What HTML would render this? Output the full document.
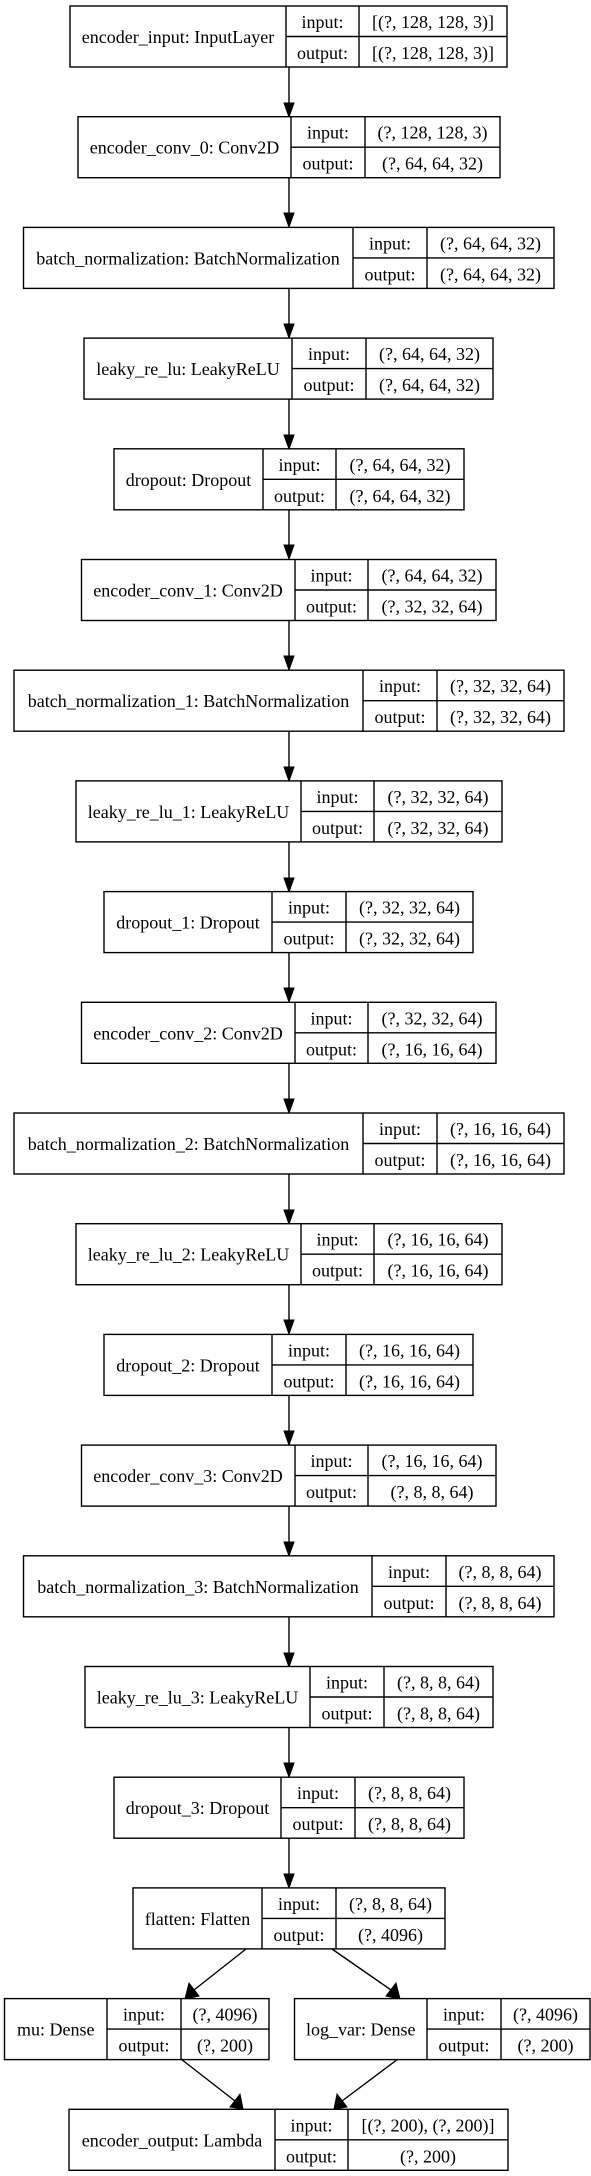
<!DOCTYPE html>
<html><head><meta charset="utf-8"><style>html,body{margin:0;padding:0;background:#fff}svg{display:block}</style></head>
<body>
<svg width="591" height="2176" viewBox="0 0 591 2176" xmlns="http://www.w3.org/2000/svg" font-family="'Liberation Serif', serif" font-size="18" text-anchor="middle" fill="#000">
<defs><style>rect,line.b{fill:#fff;stroke:#000;stroke-width:1.4}line.a{stroke:#000;stroke-width:1.4}polygon{fill:#000;stroke:#000;stroke-width:1}</style></defs>

<!-- vertical arrows -->
<g>
<line class="a" x1="289" y1="67" x2="289" y2="103"/><polygon points="284,103 294,103 289,117"/>
<line class="a" x1="289" y1="178" x2="289" y2="213"/><polygon points="284,213 294,213 289,227"/>
<line class="a" x1="289" y1="288" x2="289" y2="324"/><polygon points="284,324 294,324 289,338"/>
<line class="a" x1="289" y1="399" x2="289" y2="435"/><polygon points="284,435 294,435 289,449"/>
<line class="a" x1="289" y1="510" x2="289" y2="545"/><polygon points="284,545 294,545 289,559"/>
<line class="a" x1="289" y1="620" x2="289" y2="656"/><polygon points="284,656 294,656 289,670"/>
<line class="a" x1="289" y1="731" x2="289" y2="767"/><polygon points="284,767 294,767 289,781"/>
<line class="a" x1="289" y1="842" x2="289" y2="878"/><polygon points="284,878 294,878 289,892"/>
<line class="a" x1="289" y1="953" x2="289" y2="988"/><polygon points="284,988 294,988 289,1002"/>
<line class="a" x1="289" y1="1063" x2="289" y2="1099"/><polygon points="284,1099 294,1099 289,1113"/>
<line class="a" x1="289" y1="1174" x2="289" y2="1210"/><polygon points="284,1210 294,1210 289,1224"/>
<line class="a" x1="289" y1="1285" x2="289" y2="1320"/><polygon points="284,1320 294,1320 289,1334"/>
<line class="a" x1="289" y1="1395" x2="289" y2="1431"/><polygon points="284,1431 294,1431 289,1445"/>
<line class="a" x1="289" y1="1506" x2="289" y2="1542"/><polygon points="284,1542 294,1542 289,1556"/>
<line class="a" x1="289" y1="1617" x2="289" y2="1653"/><polygon points="284,1653 294,1653 289,1667"/>
<line class="a" x1="289" y1="1728" x2="289" y2="1763"/><polygon points="284,1763 294,1763 289,1777"/>
<line class="a" x1="289" y1="1838" x2="289" y2="1874"/><polygon points="284,1874 294,1874 289,1888"/>
</g>
<!-- diagonal arrows -->
<line class="a" x1="246" y1="1949" x2="194" y2="1990"/><polygon points="189,1983 199,1996 185,1999"/>
<line class="a" x1="332" y1="1949" x2="391" y2="1990"/><polygon points="386,1996 396,1983 400,1999"/>
<line class="a" x1="181" y1="2059" x2="235" y2="2101"/><polygon points="230,2107 240,2094 243,2109"/>
<line class="a" x1="398" y1="2059" x2="342" y2="2101"/><polygon points="337,2094 347,2107 334,2109"/>

<!-- nodes -->
<g transform="translate(0,6)"><rect x="70" y="0" width="437" height="61"/><line class="b" x1="286" y1="0" x2="286" y2="61"/><line class="b" x1="359" y1="0" x2="359" y2="61"/><line class="b" x1="286" y1="30.5" x2="507" y2="30.5"/>
<text x="178" y="37">encoder_input: InputLayer</text><text x="322.5" y="22">input:</text><text x="433" y="22">[(?, 128, 128, 3)]</text><text x="322.5" y="53">output:</text><text x="433" y="53">[(?, 128, 128, 3)]</text></g>

<g transform="translate(0,116.7)"><rect x="78" y="0" width="422" height="61"/><line class="b" x1="291" y1="0" x2="291" y2="61"/><line class="b" x1="365" y1="0" x2="365" y2="61"/><line class="b" x1="291" y1="30.5" x2="500" y2="30.5"/>
<text x="184.5" y="37">encoder_conv_0: Conv2D</text><text x="328" y="22">input:</text><text x="432.5" y="22">(?, 128, 128, 3)</text><text x="328" y="53">output:</text><text x="432.5" y="53">(?, 64, 64, 32)</text></g>

<g transform="translate(0,227.4)"><rect x="23.5" y="0" width="530.5" height="61"/><line class="b" x1="353" y1="0" x2="353" y2="61"/><line class="b" x1="427" y1="0" x2="427" y2="61"/><line class="b" x1="353" y1="30.5" x2="554" y2="30.5"/>
<text x="188" y="37">batch_normalization: BatchNormalization</text><text x="390" y="22">input:</text><text x="490.5" y="22">(?, 64, 64, 32)</text><text x="390" y="53">output:</text><text x="490.5" y="53">(?, 64, 64, 32)</text></g>

<g transform="translate(0,338.1)"><rect x="84" y="0" width="409" height="61"/><line class="b" x1="292" y1="0" x2="292" y2="61"/><line class="b" x1="366" y1="0" x2="366" y2="61"/><line class="b" x1="292" y1="30.5" x2="493" y2="30.5"/>
<text x="188" y="37">leaky_re_lu: LeakyReLU</text><text x="329" y="22">input:</text><text x="429.5" y="22">(?, 64, 64, 32)</text><text x="329" y="53">output:</text><text x="429.5" y="53">(?, 64, 64, 32)</text></g>

<g transform="translate(0,448.8)"><rect x="114" y="0" width="350" height="61"/><line class="b" x1="263" y1="0" x2="263" y2="61"/><line class="b" x1="336" y1="0" x2="336" y2="61"/><line class="b" x1="263" y1="30.5" x2="464" y2="30.5"/>
<text x="188.5" y="37">dropout: Dropout</text><text x="299.5" y="22">input:</text><text x="400" y="22">(?, 64, 64, 32)</text><text x="299.5" y="53">output:</text><text x="400" y="53">(?, 64, 64, 32)</text></g>

<g transform="translate(0,559.5)"><rect x="81.5" y="0" width="414.5" height="61"/><line class="b" x1="295" y1="0" x2="295" y2="61"/><line class="b" x1="368" y1="0" x2="368" y2="61"/><line class="b" x1="295" y1="30.5" x2="496" y2="30.5"/>
<text x="188" y="37">encoder_conv_1: Conv2D</text><text x="331.5" y="22">input:</text><text x="432" y="22">(?, 64, 64, 32)</text><text x="331.5" y="53">output:</text><text x="432" y="53">(?, 32, 32, 64)</text></g>

<g transform="translate(0,670.2)"><rect x="14" y="0" width="550" height="61"/><line class="b" x1="363" y1="0" x2="363" y2="61"/><line class="b" x1="437" y1="0" x2="437" y2="61"/><line class="b" x1="363" y1="30.5" x2="564" y2="30.5"/>
<text x="188.5" y="37">batch_normalization_1: BatchNormalization</text><text x="400" y="22">input:</text><text x="500.5" y="22">(?, 32, 32, 64)</text><text x="400" y="53">output:</text><text x="500.5" y="53">(?, 32, 32, 64)</text></g>

<g transform="translate(0,780.9)"><rect x="76" y="0" width="426" height="61"/><line class="b" x1="301" y1="0" x2="301" y2="61"/><line class="b" x1="374" y1="0" x2="374" y2="61"/><line class="b" x1="301" y1="30.5" x2="502" y2="30.5"/>
<text x="188.5" y="37">leaky_re_lu_1: LeakyReLU</text><text x="337.5" y="22">input:</text><text x="438" y="22">(?, 32, 32, 64)</text><text x="337.5" y="53">output:</text><text x="438" y="53">(?, 32, 32, 64)</text></g>

<g transform="translate(0,891.6)"><rect x="104" y="0" width="369" height="61"/><line class="b" x1="272" y1="0" x2="272" y2="61"/><line class="b" x1="346" y1="0" x2="346" y2="61"/><line class="b" x1="272" y1="30.5" x2="473" y2="30.5"/>
<text x="188" y="37">dropout_1: Dropout</text><text x="309" y="22">input:</text><text x="409.5" y="22">(?, 32, 32, 64)</text><text x="309" y="53">output:</text><text x="409.5" y="53">(?, 32, 32, 64)</text></g>

<g transform="translate(0,1002.3)"><rect x="81.5" y="0" width="414.5" height="61"/><line class="b" x1="295" y1="0" x2="295" y2="61"/><line class="b" x1="368" y1="0" x2="368" y2="61"/><line class="b" x1="295" y1="30.5" x2="496" y2="30.5"/>
<text x="188" y="37">encoder_conv_2: Conv2D</text><text x="331.5" y="22">input:</text><text x="432" y="22">(?, 32, 32, 64)</text><text x="331.5" y="53">output:</text><text x="432" y="53">(?, 16, 16, 64)</text></g>

<g transform="translate(0,1113)"><rect x="14" y="0" width="550" height="61"/><line class="b" x1="363" y1="0" x2="363" y2="61"/><line class="b" x1="437" y1="0" x2="437" y2="61"/><line class="b" x1="363" y1="30.5" x2="564" y2="30.5"/>
<text x="188.5" y="37">batch_normalization_2: BatchNormalization</text><text x="400" y="22">input:</text><text x="500.5" y="22">(?, 16, 16, 64)</text><text x="400" y="53">output:</text><text x="500.5" y="53">(?, 16, 16, 64)</text></g>

<g transform="translate(0,1223.7)"><rect x="76" y="0" width="426" height="61"/><line class="b" x1="301" y1="0" x2="301" y2="61"/><line class="b" x1="374" y1="0" x2="374" y2="61"/><line class="b" x1="301" y1="30.5" x2="502" y2="30.5"/>
<text x="188.5" y="37">leaky_re_lu_2: LeakyReLU</text><text x="337.5" y="22">input:</text><text x="438" y="22">(?, 16, 16, 64)</text><text x="337.5" y="53">output:</text><text x="438" y="53">(?, 16, 16, 64)</text></g>

<g transform="translate(0,1334.4)"><rect x="104" y="0" width="369" height="61"/><line class="b" x1="272" y1="0" x2="272" y2="61"/><line class="b" x1="346" y1="0" x2="346" y2="61"/><line class="b" x1="272" y1="30.5" x2="473" y2="30.5"/>
<text x="188" y="37">dropout_2: Dropout</text><text x="309" y="22">input:</text><text x="409.5" y="22">(?, 16, 16, 64)</text><text x="309" y="53">output:</text><text x="409.5" y="53">(?, 16, 16, 64)</text></g>

<g transform="translate(0,1445.1)"><rect x="81.5" y="0" width="414.5" height="61"/><line class="b" x1="295" y1="0" x2="295" y2="61"/><line class="b" x1="368" y1="0" x2="368" y2="61"/><line class="b" x1="295" y1="30.5" x2="496" y2="30.5"/>
<text x="188" y="37">encoder_conv_3: Conv2D</text><text x="331.5" y="22">input:</text><text x="432" y="22">(?, 16, 16, 64)</text><text x="331.5" y="53">output:</text><text x="432" y="53">(?, 8, 8, 64)</text></g>

<g transform="translate(0,1555.8)"><rect x="23.5" y="0" width="530.5" height="61"/><line class="b" x1="372" y1="0" x2="372" y2="61"/><line class="b" x1="446" y1="0" x2="446" y2="61"/><line class="b" x1="372" y1="30.5" x2="554" y2="30.5"/>
<text x="198" y="37">batch_normalization_3: BatchNormalization</text><text x="409" y="22">input:</text><text x="500" y="22">(?, 8, 8, 64)</text><text x="409" y="53">output:</text><text x="500" y="53">(?, 8, 8, 64)</text></g>

<g transform="translate(0,1666.5)"><rect x="85" y="0" width="408" height="61"/><line class="b" x1="310" y1="0" x2="310" y2="61"/><line class="b" x1="384" y1="0" x2="384" y2="61"/><line class="b" x1="310" y1="30.5" x2="493" y2="30.5"/>
<text x="197.5" y="37">leaky_re_lu_3: LeakyReLU</text><text x="347" y="22">input:</text><text x="438.5" y="22">(?, 8, 8, 64)</text><text x="347" y="53">output:</text><text x="438.5" y="53">(?, 8, 8, 64)</text></g>

<g transform="translate(0,1777.2)"><rect x="114" y="0" width="350" height="61"/><line class="b" x1="281" y1="0" x2="281" y2="61"/><line class="b" x1="355" y1="0" x2="355" y2="61"/><line class="b" x1="281" y1="30.5" x2="464" y2="30.5"/>
<text x="197.5" y="37">dropout_3: Dropout</text><text x="318" y="22">input:</text><text x="409.5" y="22">(?, 8, 8, 64)</text><text x="318" y="53">output:</text><text x="409.5" y="53">(?, 8, 8, 64)</text></g>

<g transform="translate(0,1887.9)"><rect x="133" y="0" width="312" height="61"/><line class="b" x1="262" y1="0" x2="262" y2="61"/><line class="b" x1="336" y1="0" x2="336" y2="61"/><line class="b" x1="262" y1="30.5" x2="445" y2="30.5"/>
<text x="197.5" y="37">flatten: Flatten</text><text x="299" y="22">input:</text><text x="390.5" y="22">(?, 8, 8, 64)</text><text x="299" y="53">output:</text><text x="390.5" y="53">(?, 4096)</text></g>

<g transform="translate(0,1998.6)"><rect x="4.5" y="0" width="264.5" height="61"/><line class="b" x1="107" y1="0" x2="107" y2="61"/><line class="b" x1="181" y1="0" x2="181" y2="61"/><line class="b" x1="107" y1="30.5" x2="269" y2="30.5"/>
<text x="55.75" y="37">mu: Dense</text><text x="144" y="22">input:</text><text x="225" y="22">(?, 4096)</text><text x="144" y="53">output:</text><text x="225" y="53">(?, 200)</text></g>

<g transform="translate(0,1998.6)"><rect x="294.5" y="0" width="295.5" height="61"/><line class="b" x1="427" y1="0" x2="427" y2="61"/><line class="b" x1="501" y1="0" x2="501" y2="61"/><line class="b" x1="427" y1="30.5" x2="590" y2="30.5"/>
<text x="360.75" y="37">log_var: Dense</text><text x="464" y="22">input:</text><text x="545.5" y="22">(?, 4096)</text><text x="464" y="53">output:</text><text x="545.5" y="53">(?, 200)</text></g>

<g transform="translate(0,2109.3)"><rect x="69" y="0" width="439" height="61"/><line class="b" x1="275" y1="0" x2="275" y2="61"/><line class="b" x1="348" y1="0" x2="348" y2="61"/><line class="b" x1="275" y1="30.5" x2="508" y2="30.5"/>
<text x="172" y="37">encoder_output: Lambda</text><text x="311.5" y="22">input:</text><text x="428" y="22">[(?, 200), (?, 200)]</text><text x="311.5" y="53">output:</text><text x="428" y="53">(?, 200)</text></g>
</svg>
</body></html>
